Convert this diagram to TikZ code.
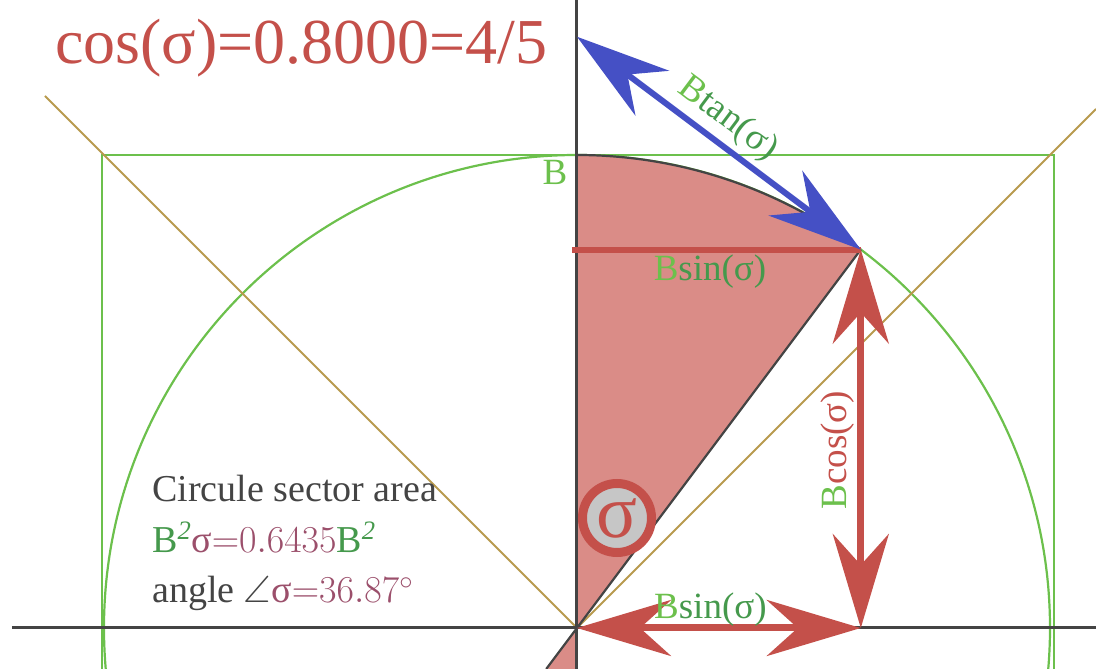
\RequirePackage{fix-cm}
\documentclass[tikz,border=0pt]{standalone}
\usepackage{amssymb}
\usepackage[no-math]{fontspec}
\setmainfont{Liberation Serif}
\usetikzlibrary{arrows.meta}

\definecolor{sigred}{HTML}{C4504A}
\definecolor{sectfill}{HTML}{DA8C87}
\definecolor{tanblue}{HTML}{4550C5}
\definecolor{rimgreen}{HTML}{6CC04C}
\definecolor{lblgreen}{HTML}{45994C}
\definecolor{diagold}{HTML}{B89A4E}
\definecolor{axisgray}{HTML}{444444}
\definecolor{mauve}{HTML}{9B4F6B}

\begin{document}
\begin{tikzpicture}[
    x=1pt, y=1pt,
    >={Stealth[length=94pt,width=56pt,inset=31pt]},
    axis/.style={draw=axisgray, line width=3pt},
    rim/.style={draw=rimgreen, line width=2.2pt},
    diag/.style={draw=diagold, line width=2pt},
    redarr/.style={draw=sigred, fill=sigred, line width=7pt, <->},
    lbl/.style={font=\fontsize{37}{44}\selectfont, inner sep=3pt},
    info/.style={font=\fontsize{38}{44}\selectfont, text=axisgray, anchor=base west, inner sep=0pt}
]
\clip (-577,-41) rectangle (519,628);

% Points
\coordinate (O) at (0,0);
\coordinate (B) at (0,473);
\coordinate (P) at (283.8,378.4);
\coordinate (T) at (0,591.25);
\coordinate (Q) at (283.8,0);
\coordinate (H) at (-5,378.4);
\coordinate (D) at (-30.75,-41);
\coordinate (E) at (0,-41);

% Circle, box and diagonals
\draw[rim] (-475,-60) rectangle (477,473);
\draw[rim] (O) circle[radius=473];
\draw[diag] (-532,532) -- (O) -- (519,519);

% Sector
\fill[sectfill] (O) -- (B) arc[start angle=90, end angle=53.13, radius=473] -- cycle;
\fill[sectfill] (O) -- (E) -- (D) -- cycle;
\draw[axis] (-565,0) -- (519,0);
\draw[axis] (E) -- (0,628);
\draw[draw=axisgray, line width=2.2pt] (B) arc[start angle=90, end angle=53.13, radius=473];
\draw[draw=axisgray, line width=2.2pt] (D) -- (P);
\draw[draw=sigred, line width=6pt] (H) -- (P);

% Arrows
\draw[draw=tanblue, fill=tanblue, line width=6pt, <->] (T) -- node[lbl, sloped, above=2pt, pos=0.48] {\color{rimgreen}B\color{lblgreen}tan(σ)} (P);
\draw[redarr] (Q) -- node[lbl, sloped, above, pos=0.47] {\color{rimgreen}B\color{sigred}cos(σ)} (P);
\draw[redarr] (O) -- node[lbl, above, pos=0.47, yshift=-5pt] {\color{rimgreen}B\color{lblgreen}sin(σ)} (Q);

% Labels
\node[lbl, text=rimgreen] (blbl) at (-22,456) {B};
\node[lbl] (sinlbl) at (133,356) {\color{rimgreen}B\color{lblgreen}sin(σ)};
\node[circle, draw=sigred, fill=gray!45, line width=9pt, minimum size=69pt, inner sep=0pt,
      text=sigred, font=\fontsize{76}{80}\selectfont] (sig) at (40,110) {σ};
\node[anchor=base west, inner sep=0pt, text=sigred, font=\fontsize{64}{76}\selectfont] (ttl) at (-522,564) {cos(σ)=0.8000=4/5};

% Sector info
\node[info] (area) at (-425,126) {Circule sector area};
\node[info] (formula) at (-425,75) {\color{lblgreen}B\textsuperscript{\itshape 2}\color{mauve}σ$\mathord{=}0.6435$\color{lblgreen}B\textsuperscript{\itshape 2}};
\node[info] (angle) at (-425,25) {angle $\angle$\color{mauve}σ$\mathord{=}36.87^\circ$};

\end{tikzpicture}
\end{document}
